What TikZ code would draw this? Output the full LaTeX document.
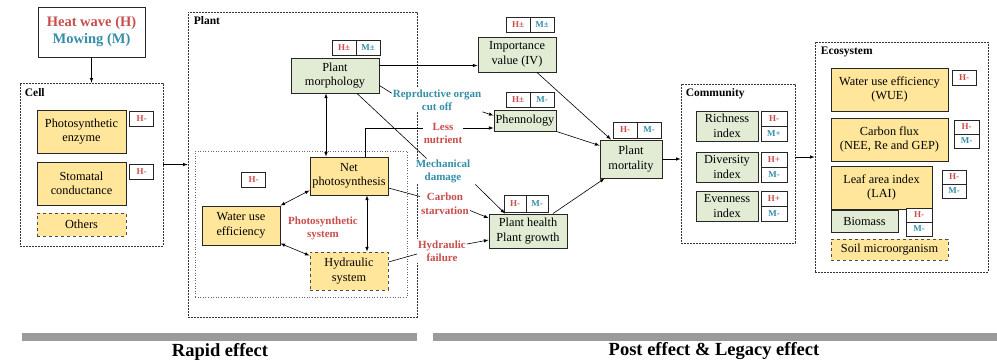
\documentclass[tikz,border=0pt]{standalone}
\usepackage{fontspec}
\setmainfont{Liberation Serif}
\usepackage{tikz}
\usetikzlibrary{positioning}
\definecolor{heatred}{RGB}{200,78,76}
\definecolor{mowteal}{RGB}{52,142,168}
\definecolor{cellfill}{RGB}{255,230,155}
\definecolor{leaffill}{RGB}{226,236,213}
\definecolor{barfill}{RGB}{155,155,155}

\begin{document}
\begin{tikzpicture}[x=1pt, y=-1pt,
    box/.style={rectangle, draw=black!85, line width=0.9pt, align=center, inner sep=0pt, font=\fontsize{12.3}{14.5}\selectfont},
    yellowbox/.style={box, fill=cellfill},
    greenbox/.style={box, fill=leaffill},
    dashbox/.style={yellowbox, dashed, draw=black!70},
    region/.style={rectangle, draw=black!80, line width=0.7pt, dash pattern=on 2pt off 1pt, inner sep=0pt},
    regionlabel/.style={anchor=north west, inner sep=0pt, font=\fontsize{11.5}{13}\selectfont\bfseries},
    tag/.style={rectangle, draw=black!85, line width=0.7pt, fill=white, inner sep=0pt, outer sep=0pt, minimum width=24pt, minimum height=15pt, font=\fontsize{9}{10}\selectfont\bfseries},
    htag/.style={tag, text=heatred},
    mtag/.style={tag, text=mowteal},
    effect/.style={align=center, fill=white, inner sep=1pt, font=\fontsize{11}{13.5}\selectfont\bfseries},
    heffect/.style={effect, text=heatred},
    meffect/.style={effect, text=mowteal},
    arr/.style={->, >=latex, line width=0.6pt},
    dbl/.style={<->, >=latex, line width=0.6pt},
    link/.style={line width=0.6pt}
]
    \useasboundingbox (0,0) rectangle (997,362);

    \node[box, font=\fontsize{14.5}{17}\selectfont\bfseries, minimum width=107pt, minimum height=50pt] (stress) at (91.5,32) {\textcolor{heatred}{Heat wave (H)}\\\textcolor{mowteal}{Mowing (M)}};

    % cell level
    \node[region, minimum width=143pt, minimum height=163pt] (cell) at (91.5,164.5) {};
    \node[regionlabel] (celltitle) at ([xshift=5pt,yshift=-6pt]cell.north west) {Cell};
    \node[yellowbox, minimum width=89pt, minimum height=43pt] (enzyme) at (81.5,131.5) {Photosynthetic\\enzyme};
    \node[htag] (enzymeH) at (141.5,118.5) {H-};
    \node[yellowbox, minimum width=89pt, minimum height=43pt] (stomata) at (81.5,183.5) {Stomatal\\conductance};
    \node[htag] (stomataH) at (141.5,172) {H-};
    \node[dashbox, minimum width=89pt, minimum height=23pt] (cellother) at (81.5,224.5) {Others};
    \draw[arr] (stress.south) -- (cell.north);

    % plant level
    \node[region, minimum width=229pt, minimum height=305pt] (plant) at (302.5,164.5) {};
    \node[regionlabel] (planttitle) at ([xshift=6pt,yshift=-5pt]plant.north west) {Plant};
    \node[rectangle, draw=black!60, dotted, line width=0.6pt, minimum width=212pt, minimum height=146pt, inner sep=0pt] (photosys) at (301,224) {};
    \draw[arr] (cell.east) -- (plant.west);

    \node[greenbox, minimum width=88pt, minimum height=35pt] (morph) at (335,75.5) {Plant\\morphology};
    \node[htag] (morphH) at (344,48) {H±};
    \node[mtag, right=0pt of morphH] (morphM) {M±};
    \node[yellowbox, minimum width=78pt, minimum height=38pt] (netps) at (349,176) {Net\\photosynthesis};
    \node[htag] (netpsH) at (253.5,180) {H-};
    \node[yellowbox, minimum width=78pt, minimum height=39pt] (wue) at (241,225.5) {Water use\\efficiency};
    \node[heffect, fill=none] (pstext) at (323,228.5) {Photosynthetic\\system};
    \node[dashbox, minimum width=78pt, minimum height=38pt] (hydsys) at (349,271) {Hydraulic\\system};

    \draw[dbl] ([xshift=-9pt]morph.south) -- ([xshift=-9pt]morph.south |- netps.north);
    \draw[dbl] ([xshift=18pt]netps.south) -- ([xshift=18pt]hydsys.north);
    \draw[dbl] ([yshift=5pt]netps.south west) -- (wue.north east);
    \draw[dbl] ([yshift=2pt]wue.south east) -- ([yshift=-4pt]hydsys.north west);

    % pathways
    \node[meffect] (lrep) at (437,100) {Reprductive organ\\cut off};
    \node[heffect] (lnut) at (443,133.5) {Less\\nutrient};
    \node[meffect] (lmech) at (443,171.5) {Mechanical\\damage};
    \node[heffect] (lcarb) at (445,203.5) {Carbon\\starvation};
    \node[heffect] (lhyd) at (442,251) {Hydraulic\\failure};

    \node[greenbox, minimum width=78pt, minimum height=35pt] (iv) at (517,54.5) {Importance\\value (IV)};
    \node[htag] (ivH) at (518,25) {H±};
    \node[mtag, right=0pt of ivH] (ivM) {M±};
    \node[greenbox, minimum width=62pt, minimum height=21pt] (phen) at (525,120.5) {Phennology};
    \node[htag] (phenH) at (518,100) {H±};
    \node[mtag, right=0pt of phenH] (phenM) {M-};
    \node[greenbox, minimum width=78pt, minimum height=34pt] (health) at (528,231) {Plant health\\Plant growth};
    \node[htag, minimum width=22pt, minimum height=17pt] (healthH) at (515,203.5) {H-};
    \node[mtag, minimum width=22pt, minimum height=17pt, right=0pt of healthH] (healthM) {M-};
    \node[greenbox, minimum width=62pt, minimum height=38pt] (mort) at (631,159) {Plant\\mortality};
    \node[htag, minimum height=16pt] (mortH) at (625,130) {H-};
    \node[mtag, minimum height=16pt, right=0pt of mortH] (mortM) {M-};

    \draw[arr] ([yshift=10pt]morph.east) -- ([yshift=10pt]morph.east -| iv.west);
    \draw[link] ([yshift=-10pt]morph.east) -- ([yshift=-5pt]lrep.north west);
    \draw[arr] (lrep.south east) -- ([yshift=5pt]phen.west);
    \draw[link] ([xshift=16pt]netps.north) |- ([yshift=5.5pt]lnut.west);
    \draw[arr] ([yshift=5.5pt]lnut.east) -- ([yshift=-7.5pt]phen.west);
    \draw[link] ([xshift=22pt]morph.south) -- ([xshift=12pt]lmech.north west);
    \draw[arr] ([xshift=4pt]lmech.south east) -- ([xshift=-23pt]health.north);
    \draw[link] ([yshift=-12pt]netps.east) -- ([yshift=7pt]lcarb.west);
    \draw[arr] ([yshift=-7pt]lcarb.east) -- ([yshift=13pt]health.west);
    \draw[link] ([yshift=9pt]hydsys.east) -- ([yshift=-3pt]lhyd.west);
    \draw[arr] ([yshift=7pt]lhyd.east) -- ([yshift=-9pt]health.west);

    \draw[arr] ([xshift=20pt]iv.south) -- ([xshift=-20pt]mort.north);
    \draw[arr] (phen.south east) -- ([yshift=-6pt]mort.north west);
    \draw[arr] ([xshift=25pt]health.north) -- ([xshift=5pt]mort.south west);

    % community level
    \node[region, minimum width=114pt, minimum height=159pt] (comm) at (738,163.5) {};
    \node[regionlabel] (commtitle) at ([xshift=5pt,yshift=-5pt]comm.north west) {Community};
    \draw[arr] (mort.east) -- (mort.east -| comm.west);

    \node[greenbox, minimum width=62pt, minimum height=30pt] (rich) at (727,126) {Richness\\index};
    \node[htag, minimum width=26pt] (richH) at (774,118.5) {H-};
    \node[mtag, minimum width=26pt, below=0pt of richH] (richM) {M+};
    \node[greenbox, minimum width=62pt, minimum height=30pt] (div) at (727,167) {Diversity\\index};
    \node[htag, minimum width=26pt] (divH) at (774,159.5) {H+};
    \node[mtag, minimum width=26pt, below=0pt of divH] (divM) {M-};
    \node[greenbox, minimum width=62pt, minimum height=30pt] (even) at (727,206) {Evenness\\index};
    \node[htag, minimum width=26pt] (evenH) at (774,198.5) {H+};
    \node[mtag, minimum width=26pt, below=0pt of evenH] (evenM) {M-};

    % ecosystem level
    \node[region, minimum width=173pt, minimum height=230pt] (eco) at (901.5,157) {};
    \node[regionlabel] (ecotitle) at ([xshift=6pt,yshift=-5pt]eco.north west) {Ecosystem};
    \draw[arr] (eco.west -| comm.east) -- (eco.west);

    \node[yellowbox, minimum width=117pt, minimum height=43pt] (ecowue) at (889.5,89.5) {Water use efficiency\\(WUE)};
    \node[htag] (ecowueH) at (964,77.5) {H-};
    \node[yellowbox, minimum width=117pt, minimum height=43pt] (cflux) at (889.5,139.5) {Carbon flux\\(NEE, Re and GEP)};
    \node[htag, minimum width=25pt, minimum height=14pt] (cfluxH) at (966.5,127) {H-};
    \node[mtag, minimum width=25pt, minimum height=14pt, below=0pt of cfluxH] (cfluxM) {M-};
    \node[yellowbox, minimum width=101pt, minimum height=43pt] (lai) at (881.5,187.5) {Leaf area index\\(LAI)};
    \node[htag, minimum height=14pt] (laiH) at (954,177) {H-};
    \node[mtag, minimum height=14pt, below=0pt of laiH] (laiM) {M-};
    \node[greenbox, minimum width=67pt, minimum height=22pt] (biomass) at (864.5,221) {Biomass};
    \node[htag, minimum width=26pt, minimum height=14pt] (biomassH) at (919,215) {H-};
    \node[mtag, minimum width=26pt, minimum height=14pt, below=0pt of biomassH] (biomassM) {M-};
    \node[dashbox, minimum width=117pt, minimum height=21pt] (soil) at (889.5,249.5) {Soil microorganism};

    % time scale
    \fill[barfill] (22,333) rectangle (417,341);
    \fill[barfill] (433,333) rectangle (997,341);
    \node[font=\fontsize{18.5}{21}\selectfont\bfseries] (rapid) at (220,351.5) {Rapid effect};
    \node[font=\fontsize{18.5}{21}\selectfont\bfseries] (legacy) at (714,351.5) {Post effect \& Legacy effect};
\end{tikzpicture}
\end{document}
